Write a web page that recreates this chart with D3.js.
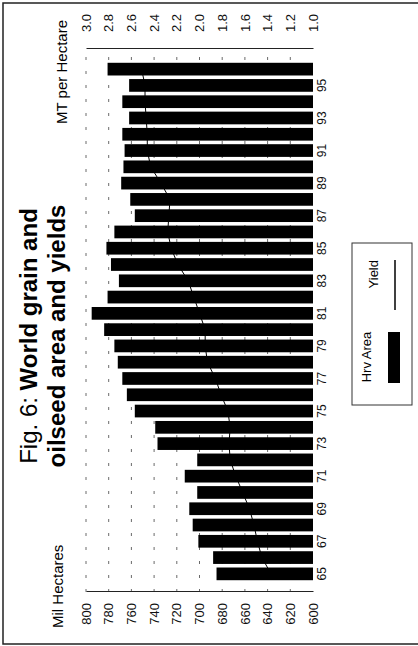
<!DOCTYPE html>
<html>
<head>
<meta charset="utf-8">
<script src="https://cdn.jsdelivr.net/npm/d3@7"></script>
<style>
  body { margin: 0; background: #fff; }
  svg { display: block; font-family: "Liberation Sans", Arial, sans-serif; }
  .tick text { fill: #111; }
</style>
</head>
<body>
<script>
// values (years 1965-1996)
var years = [1965, 1966, 1967, 1968, 1969, 1970, 1971, 1972, 1973, 1974, 1975, 1976, 1977, 1978, 1979, 1980,
             1981, 1982, 1983, 1984, 1985, 1986, 1987, 1988, 1989, 1990, 1991, 1992, 1993, 1994, 1995, 1996];
var area = [685, 688, 701, 706, 709, 702, 713, 702, 737, 739, 757, 764, 768, 772, 775, 784,
            795, 781, 771, 778, 782, 775, 757, 761, 769, 767, 766, 768, 762, 768, 762, 781];
var yields = [1.37, 1.45, 1.49, 1.52, 1.56, 1.62, 1.68, 1.73, 1.74, 1.73, 1.75, 1.81, 1.86, 1.93, 1.95, 1.95,
              2.00, 2.05, 2.10, 2.19, 2.25, 2.28, 2.27, 2.26, 2.34, 2.43, 2.46, 2.46, 2.47, 2.48, 2.48, 2.51];
var areaTicks = [600, 620, 640, 660, 680, 700, 720, 740, 760, 780, 800];
var yieldTicks = [1.0, 1.2, 1.4, 1.6, 1.8, 2.0, 2.2, 2.4, 2.6, 2.8, 3.0];
var yearTicks = [1965, 1967, 1969, 1971, 1973, 1975, 1977, 1979, 1981, 1983, 1985, 1987, 1989, 1991, 1993, 1995];

var W = 418, H = 646;
var svg = d3.select("body").append("svg")
  .attr("width", W)
  .attr("height", H);

// frame of the scanned page
svg.append("path")
  .attr("d", "M418,3H3V644H418")
  .attr("fill", "none")
  .attr("stroke", "#222")
  .attr("stroke-width", 1.5);

// the figure is printed sideways: draw it landscape (646 x 418) then turn it
var g = svg.append("g")
  .attr("transform", "translate(0," + H + ") rotate(-90)");

var x = d3.scaleBand()
  .domain(years)
  .range([64, 585])
  .paddingInner(0.22)
  .paddingOuter(0.11);

var yA = d3.scaleLinear().domain([600, 800]).range([313, 86]);
var yY = d3.scaleLinear().domain([1, 3]).range([313, 86]);

// dashed grid
g.append("g").selectAll("line")
  .data(areaTicks.slice(1))
  .enter().append("line")
  .attr("x1", 54).attr("x2", 596)
  .attr("y1", function(d) { return yA(d); })
  .attr("y2", function(d) { return yA(d); })
  .attr("stroke", "#444")
  .attr("stroke-width", 0.8)
  .attr("stroke-dasharray", "3,11");

// bars
var rows = years.map(function(y, i) { return {year: y, area: area[i], yld: yields[i]}; });

g.append("g").selectAll("rect")
  .data(rows)
  .enter().append("rect")
  .attr("x", function(d) { return x(d.year); })
  .attr("width", x.bandwidth())
  .attr("y", function(d) { return yA(d.area); })
  .attr("height", function(d) { return yA(600) - yA(d.area); })
  .attr("fill", "#000");

// yield line
var line = d3.line()
  .x(function(d) { return x(d.year) + x.bandwidth() / 2; })
  .y(function(d) { return yY(d.yld); });

g.append("path")
  .datum(rows)
  .attr("d", line)
  .attr("fill", "none")
  .attr("stroke", "#000")
  .attr("stroke-width", 1);

// axes
var left = g.append("g")
  .attr("transform", "translate(54,0)")
  .call(d3.axisLeft(yA).tickValues(areaTicks).tickSize(0).tickSizeOuter(0).tickPadding(11));
left.selectAll("text").attr("font-size", 13);
left.select(".domain").attr("stroke", "#222");

var right = g.append("g")
  .attr("transform", "translate(597,0)")
  .call(d3.axisRight(yY).tickValues(yieldTicks).tickFormat(d3.format(".1f")).tickSize(0).tickSizeOuter(0).tickPadding(17));
right.selectAll("text").attr("font-size", 13);
right.select(".domain").attr("stroke", "#222");

var bottom = g.append("g")
  .attr("transform", "translate(0,313)")
  .call(d3.axisBottom(x).tickValues(yearTicks).tickFormat(function(d) { return String(d).slice(2); }).tickSize(0).tickPadding(4));
bottom.selectAll("text").attr("font-size", 12);
bottom.select(".domain").remove();

// axis titles
g.append("text")
  .attr("x", 18).attr("y", 63)
  .attr("font-size", 15)
  .text("Mil Hectares");

g.append("text")
  .attr("x", 626).attr("y", 67)
  .attr("text-anchor", "end")
  .attr("font-size", 15)
  .text("MT per Hectare");

// title
var title = g.append("text")
  .attr("x", 310).attr("y", 37)
  .attr("text-anchor", "middle")
  .attr("font-size", 24);
title.append("tspan").text("Fig. 6: ");
title.append("tspan").attr("font-weight", "bold").text("World grain and");

g.append("text")
  .attr("x", 310).attr("y", 65)
  .attr("text-anchor", "middle")
  .attr("font-size", 24)
  .attr("font-weight", "bold")
  .text("oilseed area and yields");

// legend
var leg = g.append("g");
leg.append("rect")
  .attr("x", 241).attr("y", 352)
  .attr("width", 162).attr("height", 60)
  .attr("fill", "none")
  .attr("stroke", "#333")
  .attr("stroke-width", 1);
leg.append("text")
  .attr("x", 289).attr("y", 371)
  .attr("text-anchor", "middle")
  .attr("font-size", 13)
  .text("Hrv Area");
leg.append("rect")
  .attr("x", 263).attr("y", 388)
  .attr("width", 51).attr("height", 12)
  .attr("fill", "#000");
leg.append("text")
  .attr("x", 386).attr("y", 378)
  .attr("text-anchor", "end")
  .attr("font-size", 13)
  .text("Yield");
leg.append("line")
  .attr("x1", 336).attr("x2", 386)
  .attr("y1", 395).attr("y2", 395)
  .attr("stroke", "#000")
  .attr("stroke-width", 1.5);
</script>
</body>
</html>
